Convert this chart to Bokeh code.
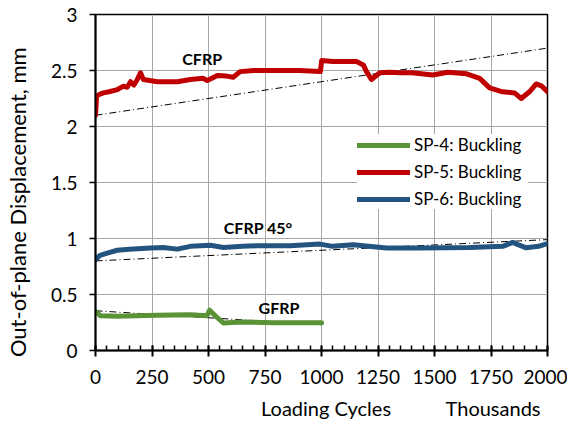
from bokeh.plotting import figure
from bokeh.models import (FixedTicker, Range1d, Legend, LegendItem, LinearAxis,
                          CustomJSTickFormatter, ColumnDataSource)
from bokeh.core.properties import value
from bokeh.embed import file_html
from bokeh.resources import INLINE

# ---- data (thousands of cycles, mm) ----
sp4_x = [0, 22, 96, 272, 420, 493, 505, 530, 567, 640, 787, 1000]
sp4_y = [0.35, 0.31, 0.305, 0.315, 0.32, 0.31, 0.36, 0.31, 0.245, 0.255, 0.247, 0.247]

sp5_x = [0, 5, 20, 35, 60, 97, 124, 140, 155, 170, 185, 199, 212, 240, 274, 320,
         362, 420, 477, 494, 515, 539, 580, 609, 640, 700, 800, 900, 995, 1001,
         1050, 1100, 1155, 1185, 1199, 1221, 1258, 1300, 1347, 1400, 1492, 1559,
         1642, 1700, 1744, 1801, 1854, 1884, 1920, 1950, 1975, 2000]
sp5_y = [2.10, 2.27, 2.29, 2.30, 2.31, 2.33, 2.36, 2.35, 2.40, 2.37, 2.42, 2.48,
         2.42, 2.41, 2.40, 2.40, 2.40, 2.42, 2.43, 2.41, 2.43, 2.455, 2.45, 2.44,
         2.49, 2.50, 2.50, 2.50, 2.49, 2.59, 2.58, 2.58, 2.58, 2.55, 2.49, 2.42,
         2.48, 2.485, 2.48, 2.48, 2.46, 2.485, 2.47, 2.43, 2.345, 2.31, 2.30, 2.25,
         2.31, 2.38, 2.36, 2.31]

sp6_x = [0, 20, 52, 96, 150, 243, 300, 361, 420, 508, 566, 650, 714, 861, 993,
         1050, 1140, 1288, 1435, 1656, 1802, 1846, 1875, 1906, 1960, 2000]
sp6_y = [0.81, 0.85, 0.87, 0.895, 0.905, 0.915, 0.92, 0.905, 0.93, 0.94, 0.92,
         0.93, 0.935, 0.935, 0.95, 0.93, 0.945, 0.915, 0.915, 0.92, 0.93, 0.965,
         0.94, 0.917, 0.93, 0.955]

trend_cfrp_x = [0, 2000]
trend_cfrp_y = [2.10, 2.70]
trend_cfrp45_x = [0, 2000]
trend_cfrp45_y = [0.80, 0.99]
trend_gfrp_x = [0, 1000]
trend_gfrp_y = [0.355, 0.23]

ann_x = [472, 720, 812]
ann_y = [2.61, 1.10, 0.384]
ann_text = ["CFRP", "CFRP 45°", "GFRP"]

x_ticks = [0, 250, 500, 750, 1000, 1250, 1500, 1750, 2000]
x_minor = list(range(0, 2001, 50))
y_ticks = [0, 0.5, 1, 1.5, 2, 2.5, 3]

# bottom titles placed as labels of a secondary axis (positions in thousands)
x_title_pos = [1020, 1759]
x_title_text = ["Loading Cycles", "Thousands"]
y_title = "Out-of-plane Displacement, mm"

GREEN = "#5A9236"
RED = "#C00000"
BLUE = "#22547F"
FONT = "Lato"

p = figure(width=567, height=422, output_backend="svg", toolbar_location=None,
           x_range=Range1d(0, 2000), y_range=Range1d(0, 3),
           min_border_left=95, min_border_right=20, min_border_top=14,
           min_border_bottom=72)
p.background_fill_color = "white"
p.border_fill_color = "white"
p.outline_line_color = "black"
p.outline_line_width = 1.5

# grid
for g in (p.xgrid, p.ygrid):
    g.grid_line_color = "#A6A6A6"
    g.grid_line_width = 1
p.xgrid.ticker = FixedTicker(ticks=x_ticks)
p.ygrid.ticker = FixedTicker(ticks=y_ticks)

# x axes
xa = p.xaxis[0]
xa.ticker = FixedTicker(ticks=x_ticks, minor_ticks=x_minor)
xa.axis_line_width = 2
xa.axis_line_color = "black"
xa.major_tick_in = 5
xa.major_tick_out = 6
xa.major_tick_line_width = 2
xa.minor_tick_in = 5
xa.minor_tick_out = 0
xa.minor_tick_line_width = 1.5
xa.major_label_standoff = 13
xa.major_label_text_font = FONT
xa.major_label_text_font_size = "19px"
xa.major_label_text_color = "black"

xa2 = LinearAxis(ticker=FixedTicker(ticks=x_title_pos, minor_ticks=[]),
                 major_label_overrides={k: v for k, v in zip(x_title_pos, x_title_text)})
xa2.axis_line_color = None
xa2.major_tick_in = 0
xa2.major_tick_out = 0
xa2.major_tick_line_color = None
xa2.minor_tick_line_color = None
xa2.major_label_standoff = 9
xa2.major_label_text_font = FONT
xa2.major_label_text_font_size = "20px"
xa2.major_label_text_color = "black"
p.add_layout(xa2, "below")

# y axis
ya = p.yaxis[0]
ya.ticker = FixedTicker(ticks=y_ticks)
ya.axis_line_width = 2
ya.axis_line_color = "black"
ya.major_tick_in = 0
ya.major_tick_out = 6
ya.major_tick_line_width = 1.5
ya.minor_tick_line_color = None
ya.major_label_standoff = 12
ya.major_label_text_font = FONT
ya.major_label_text_font_size = "19px"
ya.major_label_text_color = "black"
ya.formatter = CustomJSTickFormatter(code="return String(Math.round(tick*10)/10);")
# trailing no-break spaces shift the centred title slightly downwards
ya.axis_label = y_title + "\u00a0" * 7
ya.axis_label_text_font = FONT
ya.axis_label_text_font_size = "22px"
ya.axis_label_text_font_style = "normal"
ya.axis_label_text_color = "black"
ya.axis_label_standoff = 17

# trend lines
for tx, ty in ((trend_cfrp_x, trend_cfrp_y), (trend_cfrp45_x, trend_cfrp45_y),
               (trend_gfrp_x, trend_gfrp_y)):
    p.line(tx, ty, line_color="black", line_width=1, line_dash="7 3 1 3")

# data lines
r4 = p.line(sp4_x, sp4_y, line_color=GREEN, line_width=5,
            line_join="round", line_cap="round")
r5 = p.line(sp5_x, sp5_y, line_color=RED, line_width=5,
            line_join="round", line_cap="round")
r6 = p.line(sp6_x, sp6_y, line_color=BLUE, line_width=5,
            line_join="round", line_cap="round")

# annotations
src = ColumnDataSource(dict(x=ann_x, y=ann_y, t=ann_text))
p.text(x="x", y="y", text="t", source=src, text_font=value(FONT),
       text_font_size="16px", text_font_style="bold", text_color="black",
       text_align="center", text_baseline="middle")

legend = Legend(items=[LegendItem(label="SP-4: Buckling", renderers=[r4]),
                       LegendItem(label="SP-5: Buckling", renderers=[r5]),
                       LegendItem(label="SP-6: Buckling", renderers=[r6])],
                location=(262, 141))
legend.background_fill_color = "white"
legend.background_fill_alpha = 1
legend.border_line_color = None
legend.label_text_font = FONT
legend.label_text_font_size = "17px"
legend.label_text_color = "black"
legend.glyph_width = 53
legend.glyph_height = 20
legend.label_standoff = 4
legend.label_width = 114
legend.spacing = 6
legend.padding = 8
legend.margin = 0
p.add_layout(legend, "center")

open("out.html", "w").write(file_html(p, INLINE))
